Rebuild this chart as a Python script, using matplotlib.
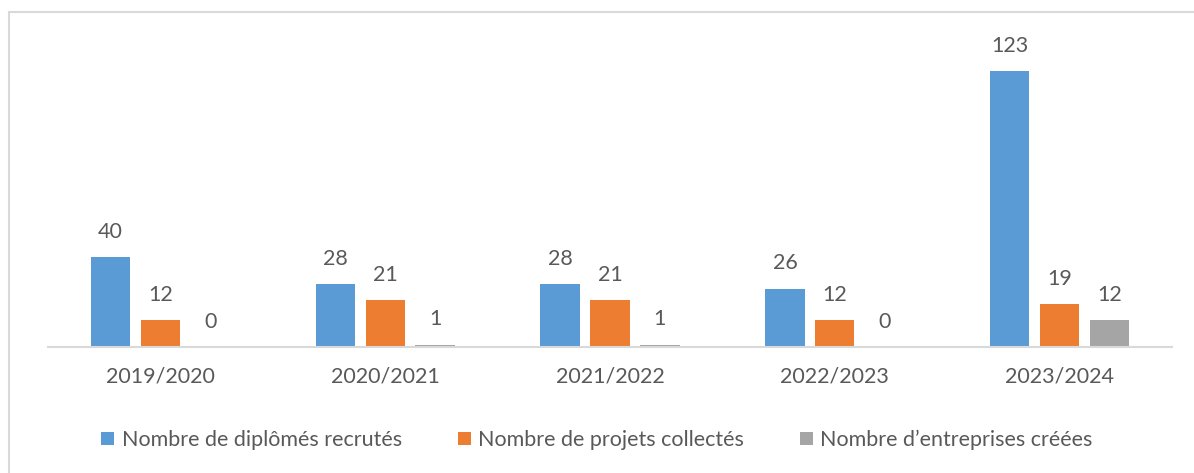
import numpy as np
import matplotlib.pyplot as plt
from matplotlib.patches import Rectangle

# données
annees = ["2019/2020", "2020/2021", "2021/2022", "2022/2023", "2023/2024"]
diplomes = [40, 28, 28, 26, 123]
projets = [12, 21, 21, 12, 19]
entreprises = [0, 1, 1, 0, 12]
series_noms = ["Nombre de diplômés recrutés", "Nombre de projets collectés",
               "Nombre d\u2019entreprises créées"]

COULEURS = ["#5B9BD5", "#ED7D31", "#A5A5A5"]
GRIS_TXT = "#595959"
FS = 15.5

plt.rcParams["font.family"] = ["Lato", "DejaVu Sans"]

W, H = 1194, 473
fig = plt.figure(figsize=(W / 100, H / 100), dpi=100)

# cadre gris clair (coupé à droite et en bas)
fig.patches.append(Rectangle((9 / W, -0.1), 1.2, (H - 12) / H + 0.1, transform=fig.transFigure,
                             fill=False, edgecolor="#D9D9D9", linewidth=1.5))

ax = fig.add_axes([48 / W, (H - 347) / H, (1172 - 48) / W, (347 - 33) / H])

x = np.arange(len(annees))
bw = 0.175
dx = 0.222
for i, (vals, col, nom) in enumerate(zip([diplomes, projets, entreprises], COULEURS, series_noms)):
    bars = ax.bar(x + (i - 1) * dx, vals, width=bw, color=col, label=nom, zorder=2)
    for b, v in zip(bars, vals):
        ax.annotate(str(v), (b.get_x() + b.get_width() / 2, v), xytext=(0, 11),
                    textcoords="offset points", ha="center", va="bottom",
                    fontsize=FS, color=GRIS_TXT)

ax.set_xlim(-0.5, len(annees) - 0.5)
ax.set_ylim(0, 140)
ax.set_xticks(x)
ax.set_xticklabels(annees, fontsize=FS, color=GRIS_TXT)
ax.tick_params(axis="x", length=0, pad=14)
ax.set_yticks([])
for s in ["top", "right", "left"]:
    ax.spines[s].set_visible(False)
ax.spines["bottom"].set_color("#D9D9D9")
ax.spines["bottom"].set_linewidth(1.5)
ax.set_facecolor("none")

fig.legend(loc="center", bbox_to_anchor=(0.5, (H - 440) / H), ncol=3, frameon=False,
           fontsize=FS, labelcolor=GRIS_TXT, handlelength=0.6, handleheight=0.6,
           handletextpad=0.35, columnspacing=2.6)

fig.savefig("out.png", dpi=100)
